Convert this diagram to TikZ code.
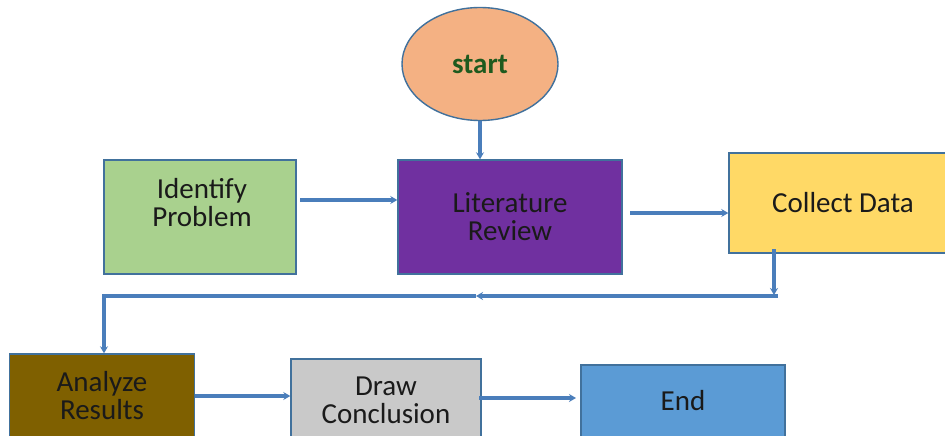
\documentclass[tikz,border=0pt]{standalone}
\usepackage{fontspec}
\setmainfont{Carlito}
\usetikzlibrary{arrows.meta,shapes.geometric}
\definecolor{conncol}{HTML}{4A7EBB}
\definecolor{bordcol}{HTML}{41719C}
\definecolor{startfill}{HTML}{F4B183}
\definecolor{starttext}{HTML}{1E5A1E}
\definecolor{greenfill}{HTML}{A9D18E}
\definecolor{purplefill}{HTML}{7030A0}
\definecolor{yellowfill}{HTML}{FFD966}
\definecolor{brownfill}{HTML}{7F6000}
\definecolor{grayfill}{HTML}{C9C9C9}
\definecolor{bluefill}{HTML}{5B9BD5}
\definecolor{txt}{HTML}{1A1A1A}
\tikzset{
  bigtext/.style={font=\fontsize{29}{28}\selectfont, text=txt},
  box/.style={draw=bordcol, line width=1.4pt, rectangle, align=center,
    bigtext, inner sep=0pt},
  conn/.style={draw=conncol, line width=3.2pt},
  arr/.style={conn, -{Stealth[length=7pt,width=8pt]}},
}
\begin{document}
\begin{tikzpicture}[x=1pt,y=-1pt]
\useasboundingbox (0,0) rectangle (945,436);
\clip (0,0) rectangle (945,436);
\fill[white] (0,0) rectangle (945,436);

\node[ellipse, draw=bordcol, line width=1.4pt, fill=startfill,
  minimum width=156pt, minimum height=113pt, inner sep=0pt,
  font=\fontsize{29}{28}\selectfont\bfseries, text=starttext] (st) at (480,64) {start};

\node[box, fill=greenfill, minimum width=192pt, minimum height=114pt,
  label={[bigtext, align=center, xshift=2pt, yshift=14pt]center:Identify\\Problem}] (ip) at (200,217) {};
\node[box, fill=purplefill, minimum width=224pt, minimum height=114pt] (lr) at (510,217) {Literature\\Review};
\node[box, fill=yellowfill, minimum width=228pt, minimum height=100pt] (cd) at (843,203) {Collect Data};
\node[box, fill=brownfill, minimum width=185pt, minimum height=84pt] (ar) at (102,396) {Analyze\\Results};
\node[box, fill=grayfill, minimum width=190pt, minimum height=82pt] (dc) at (386,400) {Draw\\Conclusion};
\node[box, fill=bluefill, minimum width=204pt, minimum height=72pt] (en) at (683,401) {End};

\coordinate (a1) at (300,200);
\coordinate (b1) at (630,213);
\coordinate (d1) at (479,398);
\coordinate (d2) at (576,398);
\coordinate (k0) at (774,249);
\coordinate (k1) at (774,295);
\coordinate (k2) at (778,296);
\coordinate (km) at (476,296);
\coordinate (k3) at (104,296);

\draw[arr] (st.south) -- (st.south |- lr.north);
\draw[arr] (a1) -- (a1 -| lr.west);
\draw[arr] (b1) -- (b1 -| cd.west);
\draw[arr] (k0) -- (k1);
\draw[arr] (k2) -- (km);
\draw[arr] (km) -- (k3) -- (k3 |- ar.north);
\draw[arr] (ar.east) -- (dc.west |- ar.east);
\draw[arr] (d1) -- (d2);
\end{tikzpicture}
\end{document}
